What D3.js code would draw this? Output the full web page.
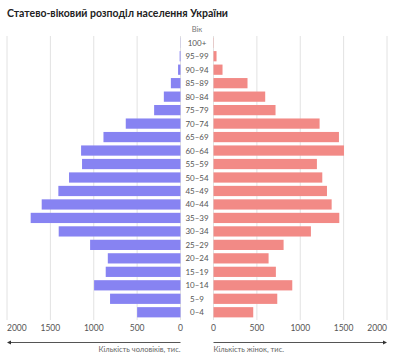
<!DOCTYPE html>
<html><head><meta charset="utf-8">
<script src="https://cdn.jsdelivr.net/npm/d3@7"></script>
<style>body{margin:0;background:#fff}svg{display:block;font-family:Lato,"Open Sans",sans-serif}</style>
</head><body><svg id="c" width="400" height="357"></svg>
<script>
const ages = ["100+","95–99","90–94","85–89","80–84","75–79","70–74","65–69","60–64","55–59","50–54","45–49","40–44","35–39","30–34","25–29","20–24","15–19","10–14","5–9","0–4"];
const men = [2,10,28,111,192,304,631,888,1146,1135,1285,1408,1600,1727,1404,1042,838,862,996,812,500];
const women = [3,35,104,392,596,715,1223,1446,1504,1192,1254,1308,1362,1450,1123,808,635,719,908,735,458];
const ticks = [0,500,1000,1500,2000];
const title = "Статево-віковий розподіл населення України";
const ageTitle = "Вік";
const menTitle = "Кількість чоловіків, тис.";
const womenTitle = "Кількість жінок, тис.";

const svg = d3.select("#c");
const y = d3.scaleBand().domain(ages).range([36, 319]).paddingInner(0.24).paddingOuter(0.12);
const xL = d3.scaleLinear().domain([0,2000]).range([180.5, 7]);
const xR = d3.scaleLinear().domain([0,2000]).range([213.5, 387]);
const gridTop = 36, gridBot = 320;

svg.append("text").attr("x",7).attr("y",17).attr("font-size",12).attr("font-weight",700)
  .attr("fill","#222").attr("textLength",221).attr("lengthAdjust","spacingAndGlyphs").text(title);

[[xL,"start"],[xR,"end"]].forEach(([x,edge])=>{
  svg.append("g").selectAll("line").data(ticks).join("line")
    .attr("x1",d=>x(d)).attr("x2",d=>x(d)).attr("y1",gridTop).attr("y2",gridBot)
    .attr("stroke","#e2e2e2").attr("stroke-width",1);
  svg.append("g").selectAll("text").data(ticks).join("text")
    .attr("x",d=>x(d)).attr("y",331).attr("text-anchor",d=>d===2000?edge:"middle")
    .attr("font-size",8.5).attr("fill","#555").text(d=>d);
});

svg.append("g").selectAll("rect").data(ages).join("rect")
  .attr("x",(d,i)=>xL(men[i])).attr("y",d=>y(d))
  .attr("width",(d,i)=>xL(0)-xL(men[i])).attr("height",y.bandwidth())
  .attr("fill","#8783f2");
svg.append("g").selectAll("rect").data(ages).join("rect")
  .attr("x",xR(0)).attr("y",d=>y(d))
  .attr("width",(d,i)=>xR(women[i])-xR(0)).attr("height",y.bandwidth())
  .attr("fill","#f28a86");

svg.append("g").selectAll("text").data(ages).join("text")
  .attr("x",197).attr("y",d=>y(d)+y.bandwidth()/2+3).attr("text-anchor","middle")
  .attr("font-size",8).attr("fill","#555").text(d=>d);
svg.append("text").attr("x",197).attr("y",32).attr("text-anchor","middle")
  .attr("font-size",7.5).attr("fill","#777").text(ageTitle);

// arrows
const ay = 342.5;
svg.append("line").attr("x1",xL(2000)+2).attr("x2",xL(0)).attr("y1",ay).attr("y2",ay).attr("stroke","#555").attr("stroke-width",1);
svg.append("path").attr("d",`M${xL(2000)},${ay} l4,-2 v4 z`).attr("fill","#333");
svg.append("line").attr("x1",xR(0)).attr("x2",xR(2000)-2).attr("y1",ay).attr("y2",ay).attr("stroke","#555").attr("stroke-width",1);
svg.append("path").attr("d",`M${xR(2000)},${ay} l-4,-2 v4 z`).attr("fill","#333");

svg.append("text").attr("x",xL(0)).attr("y",352).attr("text-anchor","end")
  .attr("font-size",7.5).attr("fill","#666").text(menTitle);
svg.append("text").attr("x",xR(0)).attr("y",352).attr("text-anchor","start")
  .attr("font-size",7.5).attr("fill","#666").text(womenTitle);
</script></body></html>
